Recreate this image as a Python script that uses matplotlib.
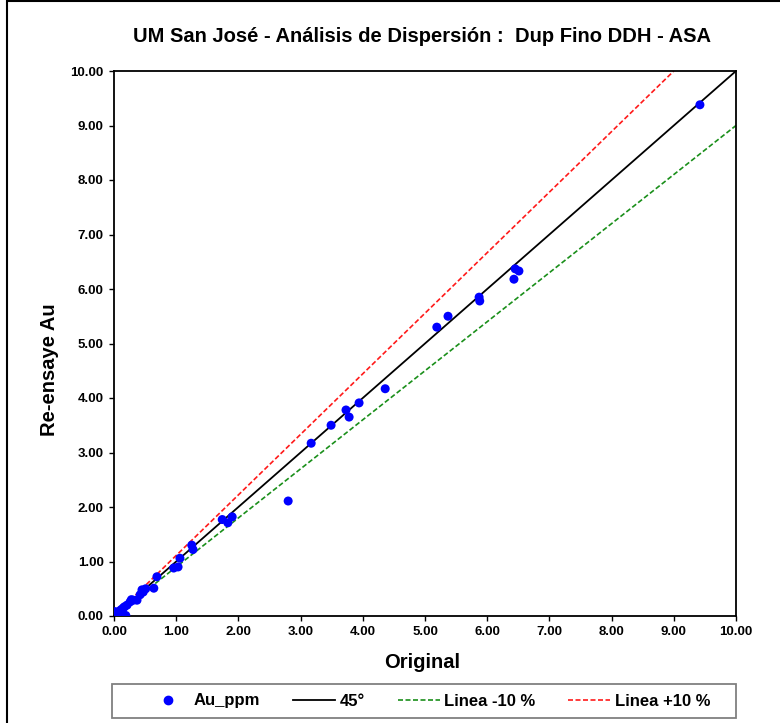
import matplotlib
matplotlib.use("Agg")
import matplotlib.pyplot as plt
from matplotlib.patches import Rectangle
from matplotlib.lines import Line2D

plt.rcParams['font.family'] = ['Liberation Sans', 'DejaVu Sans']

# Data
original = [9.42, 6.51, 6.45, 6.43, 5.87, 5.88, 5.37, 5.19, 4.36, 3.94, 3.78, 3.73,
            3.49, 3.17, 2.80, 1.74, 1.83, 1.90, 1.25, 1.27, 1.06, 1.03, 0.96, 0.69,
            0.64, 0.51, 0.47, 0.42, 0.37, 0.31, 0.26, 0.21, 0.15, 0.10, 0.05, 0.03,
            0.19, 0.02, 0.07, 0.12, 0.17, 0.28, 0.45, 0.01]
reensaye = [9.38, 6.33, 6.37, 6.18, 5.85, 5.78, 5.50, 5.30, 4.17, 3.91, 3.65, 3.78,
            3.50, 3.17, 2.11, 1.77, 1.71, 1.82, 1.30, 1.22, 1.06, 0.90, 0.88, 0.72,
            0.51, 0.50, 0.44, 0.39, 0.29, 0.29, 0.26, 0.20, 0.15, 0.10, 0.05, 0.02,
            0.01, 0.08, 0.06, 0.12, 0.17, 0.30, 0.48, 0.03]

line45_x, line45_y = [0, 10], [0, 10]
lower_x, lower_y = [0, 10], [0, 9]
upper_x, upper_y = [0, 9], [0, 10]

ticks = [0, 1, 2, 3, 4, 5, 6, 7, 8, 9, 10]
tick_labels = ['0.00', '1.00', '2.00', '3.00', '4.00', '5.00', '6.00', '7.00', '8.00', '9.00', '10.00']

title = 'UM San José - Análisis de Dispersión :  Dup Fino DDH - ASA'
legend_labels = ['Au_ppm', '45°', 'Linea -10 %', 'Linea +10 %']

W, H = 780, 723
fig = plt.figure(figsize=(W/100, H/100), dpi=100)
ax = fig.add_axes([114/W, 1-616/H, (736-114)/W, (616-71)/H])

dash = (0, (3, 1.5))
ax.plot(line45_x, line45_y, color='black', lw=1.3, zorder=2)
ax.plot(lower_x, lower_y, color='#1a8f1a', lw=1.2, ls=dash, zorder=2)
ax.plot(upper_x, upper_y, color='#ff1a1a', lw=1.2, ls=dash, zorder=2)
ax.scatter(original, reensaye, s=42, color='#0000ff', edgecolors='none', zorder=3)

ax.set_xlim(0, 10)
ax.set_ylim(0, 10)
ax.set_xticks(ticks)
ax.set_xticklabels(tick_labels)
ax.set_yticks(ticks)
ax.set_yticklabels(tick_labels)
ax.tick_params(axis='both', direction='out', length=3.5, width=1, labelsize=9.5, pad=4)
for lbl in ax.get_xticklabels() + ax.get_yticklabels():
    lbl.set_fontweight('bold')
for s in ax.spines.values():
    s.set_linewidth(1.3)

ax.set_xlabel('Original', fontsize=14.5, fontweight='bold')
ax.set_ylabel('Re-ensaye Au', fontsize=14.5, fontweight='bold')
ax.xaxis.set_label_coords(0.496, (616-653)/545)
ax.yaxis.set_label_coords((59-114)/622, (616-370)/545)
fig.text(422/W, 1-37/H, title, ha='center', va='center', fontsize=14.5, fontweight='bold')

handles = [
    Line2D([], [], marker='o', ls='none', color='#0000ff', markersize=6),
    Line2D([], [], color='black', lw=1.3),
    Line2D([], [], color='#1a8f1a', lw=1.2, ls=dash),
    Line2D([], [], color='#ff1a1a', lw=1.2, ls=dash),
]
fs = 12
px_per_fs = fs * 100 / 72
leg = fig.legend(handles, legend_labels, loc='center left', ncol=4,
                 bbox_to_anchor=(147/W, 1-701/H),
                 frameon=False, prop={'weight': 'bold', 'size': fs},
                 handlelength=42/px_per_fs, handletextpad=4.5/px_per_fs,
                 columnspacing=33/px_per_fs, borderpad=0, borderaxespad=0)

fig.patches.append(Rectangle((112/W, 1-718/H), (736-112)/W, 34/H, transform=fig.transFigure,
                             fill=False, edgecolor='#808080', lw=1.3))
fig.patches.append(Rectangle((7/W, -0.1), 1.2, 1.1 - 1.5/H, transform=fig.transFigure,
                             fill=False, edgecolor='black', lw=1.5))

fig.savefig('out.png', dpi=100)
